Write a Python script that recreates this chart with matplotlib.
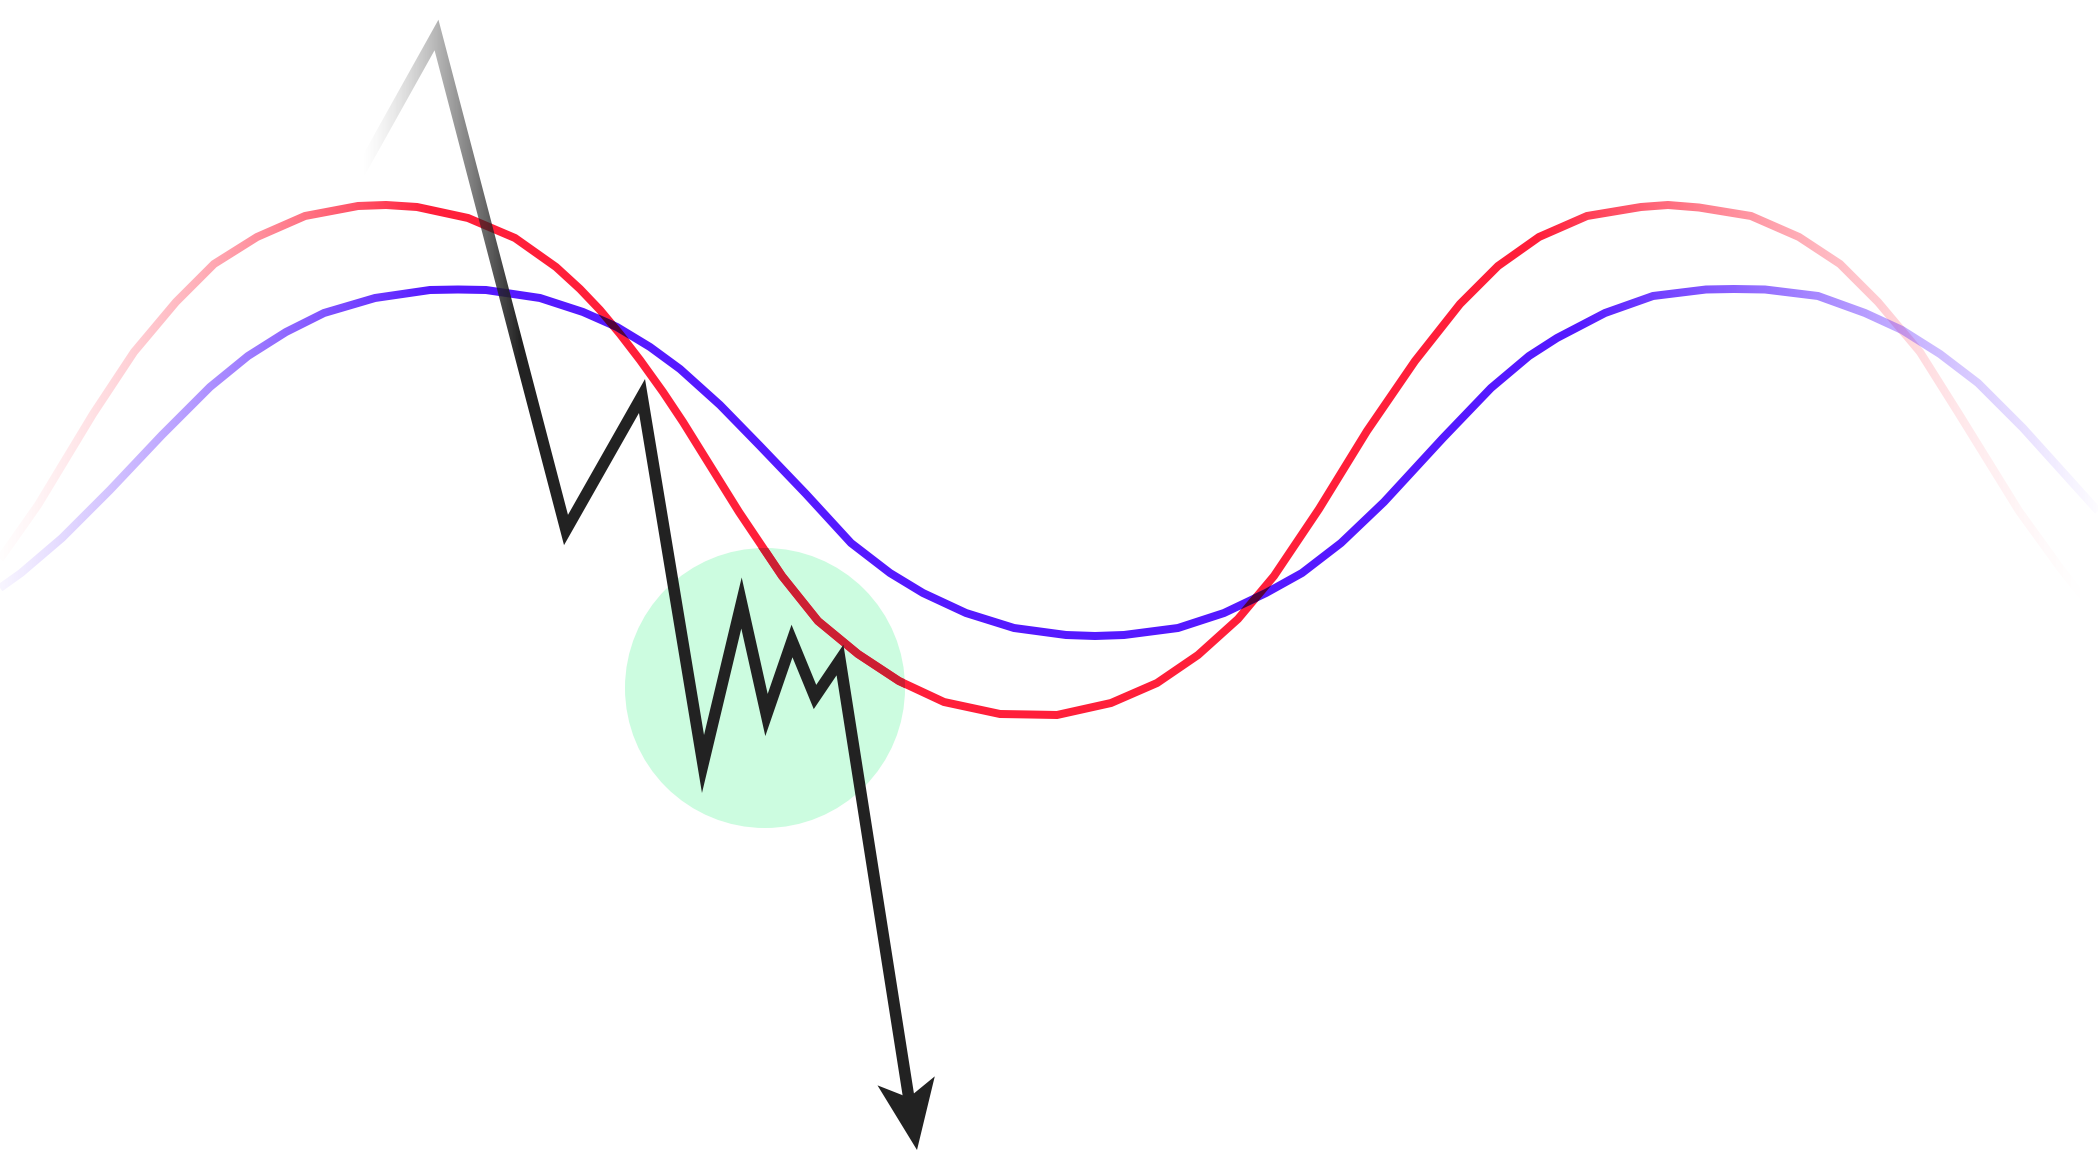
import numpy as np
import matplotlib
matplotlib.use("Agg")
import matplotlib.pyplot as plt
from matplotlib.patches import Circle, Polygon

W, H = 2098, 1170

# ---- data (pixel-like units, y grows downward) ----
red_x = [0, 38, 93, 134, 176, 214, 257, 305, 358, 386, 417, 468, 515, 556, 580, 600,
         620, 640, 663, 683, 706, 739, 782, 818, 858, 899, 944, 1000, 1030, 1057, 1111,
         1157, 1198, 1238, 1274, 1319, 1367, 1415, 1460, 1498, 1539, 1587, 1641,
         1668, 1699, 1751, 1799, 1840, 1878, 1920, 1959, 2019, 2061, 2098]
red_y = [559, 505, 414, 352, 302, 264, 237, 216, 206, 205, 207, 218, 238, 267, 289, 310,
         334, 360, 392, 422, 459, 512, 576, 621, 654, 681, 702, 714, 714.5, 715, 703,
         683, 655, 619, 576, 509, 431, 361, 304, 266, 237, 216, 207,
         205, 207.5, 216, 237, 264, 302, 352, 414, 511, 569, 616]

blue_x = [0, 21, 62, 110, 162, 210, 248, 286, 324, 375, 430, 458, 486, 540, 583,
          617, 650, 680, 720, 760, 806, 851, 890, 923, 966, 1014, 1066, 1095, 1124,
          1178, 1224, 1266, 1302, 1341, 1384, 1443, 1491, 1529, 1557, 1605, 1653,
          1706, 1734, 1765, 1818, 1865, 1902, 1940, 1978, 2023, 2098]
blue_y = [588, 573, 538, 490, 435, 387, 356, 332, 313, 298, 290, 289.5, 290, 298, 312,
          327, 347, 369, 405, 446, 494, 543, 573, 593, 613, 628, 635, 636, 635,
          628, 613, 593, 573, 543, 502, 438, 388, 356, 338, 313, 296,
          289.5, 289, 289.5, 296, 313, 330, 354, 383, 428, 511]

path_x = [336, 436.5, 566, 642, 703, 741.5, 766.5, 792, 815, 840, 917]
path_y = [215, 35, 530, 396, 764, 603, 715, 641, 697, 660, 1150]

zone_center = (765, 688)
zone_radius = 140

# ---- figure ----
fig = plt.figure(figsize=(W / 100, H / 100), dpi=100)
ax = fig.add_axes([0, 0, 1, 1])
ax.set_xlim(0, W)
ax.set_ylim(H, 0)
ax.axis("off")


def fade_filter(alpha_fn, x_start):
    def _f(img, dpi):
        out = img.copy()
        cols = (x_start * dpi / 100.0 + np.arange(out.shape[1]) + 0.5) * 100.0 / dpi
        out[..., 3] *= alpha_fn(cols)[None, :]
        return out, 0, 0
    return _f


def red_alpha(x):
    l = np.clip((x + 15) / 445.0, 0, 1) ** 1.4
    r = np.clip((W - x) / 560.0, 0, 1) ** 1.6
    return np.minimum(l, r)


def blue_alpha(x):
    l = np.clip((x + 25) / 455.0, 0, 1) ** 1.1
    r = np.clip((W - x + 10) / 530.0, 0, 1) ** 1.1
    return np.minimum(l, r)


def black_alpha(x):
    return np.clip((x - 360) / 160.0, 0, 1) ** 1.5


def stroke_outline(xs, ys, half):
    """Polygon around a polyline (used only as a clip region)."""
    p = np.column_stack([xs, ys]).astype(float)
    d = np.gradient(p, axis=0)
    d /= np.hypot(d[:, 0], d[:, 1])[:, None]
    nrm = np.column_stack([-d[:, 1], d[:, 0]])
    return np.vstack([p + half * nrm, (p - half * nrm)[::-1]])


PX = 72 / 100.0
RED = "#FF1F3A"
BLUE = "#5519FF"
INK = "#222222"
GREEN = "#CCFCE0"
LW_CURVE = 8.0
LW_BLACK = 11.5

zone = Circle(zone_center, zone_radius, facecolor=GREEN, edgecolor="none", zorder=1)
ax.add_patch(zone)

red_line, = ax.plot(red_x, red_y, color=RED, lw=LW_CURVE * PX, solid_joinstyle="miter",
                    solid_capstyle="butt", zorder=2)
red_line.set_agg_filter(fade_filter(red_alpha, 0))

# multiply-look of the red curve over the green zone
red_in, = ax.plot(red_x, red_y, color="#CC1F33", lw=LW_CURVE * PX, solid_joinstyle="miter",
                  solid_capstyle="butt", zorder=2.1)
red_in.set_clip_path(zone)

blue_line, = ax.plot(blue_x, blue_y, color=BLUE, lw=LW_CURVE * PX, solid_joinstyle="miter",
                     solid_capstyle="butt", zorder=3)
blue_line.set_agg_filter(fade_filter(blue_alpha, 0))

# multiply-look where blue crosses the (opaque part of the) red curve
rx = np.array(red_x, float)
ry = np.array(red_y, float)
keep = (rx > 470) & (rx < 1560)
red_band = Polygon(stroke_outline(rx[keep], ry[keep], LW_CURVE / 2), closed=True,
                   transform=ax.transData)
blue_dark, = ax.plot(blue_x, blue_y, color="#55033A", lw=LW_CURVE * PX,
                     solid_joinstyle="miter", solid_capstyle="butt", zorder=3.1)
blue_dark.set_clip_path(red_band)

# black price path with arrow head
px = np.array(path_x, float)
py = np.array(path_y, float)
tip = np.array([px[-1], py[-1]])
prev = np.array([px[-2], py[-2]])
u = (tip - prev) / np.hypot(*(tip - prev))
n = np.array([-u[1], u[0]])
head_len, head_half, notch = 70, 29, 53
shaft_end = tip - 45 * u
lx = np.r_[px[:-1], shaft_end[0]]
ly = np.r_[py[:-1], shaft_end[1]]
black_line, = ax.plot(lx, ly, color=INK, lw=LW_BLACK * PX, solid_joinstyle="miter",
                      solid_capstyle="butt", zorder=4)
black_line.set_agg_filter(fade_filter(black_alpha, lx.min() - LW_BLACK / 2))

head = Polygon([tip, tip - head_len * u + head_half * n, tip - notch * u,
                tip - head_len * u - head_half * n], closed=True,
               facecolor=INK, edgecolor="none", zorder=4)
ax.add_patch(head)

fig.savefig("out.png", dpi=100, facecolor="white")
